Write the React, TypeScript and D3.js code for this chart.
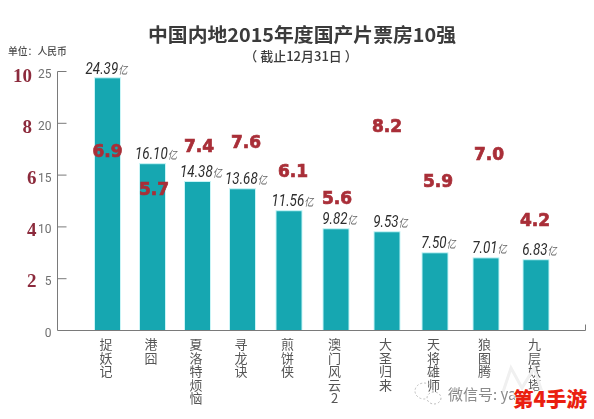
import * as d3 from 'd3';

const titles = ['捉妖记', '港囧', '夏洛特烦恼', '寻龙诀', '煎饼侠', '澳门风云2', '大圣归来', '天将雄师', '狼图腾', '九层妖塔'];
const boxOffice = [24.39, 16.1, 14.38, 13.68, 11.56, 9.82, 9.53, 7.5, 7.01, 6.83];
const ratings = [6.9, 5.7, 7.4, 7.6, 6.1, 5.6, 8.2, 5.9, 7.0, 4.2];
const boxTicks = [0, 5, 10, 15, 20, 25];
const ratingTicks = [2, 4, 6, 8, 10];

// the bars in the source are not evenly spaced, so the band centres are listed
const centres = [107.5, 152.5, 197.5, 242.5, 289, 336, 387, 435, 486, 536];
const scoreNudgeX = [0, 1.5, 1.5, 3.5, 4, 1, 0, 3, 3, -1];
const scoreNudgeY = [-4, 3, 4, 5, -4, 10, 4, 1, 2, -4];

const width = 594;
const height = 419;
const barW = 26;
const axisX = 57.5;

const x = d3.scaleOrdinal<string, number>().domain(titles).range(centres);
const y = d3.scaleLinear().domain([0, 25]).range([330.5, 71.5]);
const yRating = d3.scaleLinear().domain([0, 10]).range([331, 75]);

const sans = '"Noto Sans CJK SC", "Noto Sans", sans-serif';
const red = '#a92f38';
const grey = '#6f6f6f';

export default function App() {
  return (
    <svg
      width={width}
      height={height}
      viewBox={`0 0 ${width} ${height}`}
      style={{ position: 'absolute', left: 0, top: 0, background: '#fff' }}
      fontFamily={sans}
    >
      <defs>
        <filter id="soft" x="-5%" y="-5%" width="110%" height="110%">
          <feGaussianBlur stdDeviation="0.35" />
        </filter>
      </defs>

      <g filter="url(#soft)">
        <text x={302} y={42} textAnchor="middle" fontSize={19} fontWeight={700} fill="#3a3a3a" textLength={308} lengthAdjust="spacingAndGlyphs">
          中国内地2015年度国产片票房10强
        </text>
        <text x={301} y={61} textAnchor="middle" fontSize={13} fontWeight={500} fill="#3a3a3a">
          （ 截止12月31日 ）
        </text>
        <text x={8} y={55} fontSize={9.8} fontWeight={500} fill="#4a4a4a">
          单位：人民币
        </text>

        {/* bars */}
        {titles.map((t, i) => (
          <rect
            key={t}
            x={x(t) - barW / 2}
            y={y(boxOffice[i])}
            width={barW}
            height={y(0) - y(boxOffice[i])}
            fill="#13a7b1"
            stroke="#c9f5f7"
            strokeWidth={1}
          />
        ))}

        {/* axes */}
        <path d={`M${axisX + 9},${y(25)}H${axisX}V${y(0)}H585.5V${y(0) - 6}`} fill="none" stroke="#7a7a7a" strokeWidth={1} />
        {boxTicks.slice(1, 5).map((t) => (
          <line key={t} x1={axisX} x2={axisX + 9} y1={y(t)} y2={y(t)} stroke="#7a7a7a" strokeWidth={1} />
        ))}
        {boxTicks.map((t) => (
          <text key={t} x={51.5} y={y(t) + 6.5} textAnchor="end" fontFamily="Roboto, sans-serif" fontSize={12} fill={grey}>
            {t}
          </text>
        ))}
        {ratingTicks.map((t) => (
          <text
            key={t}
            x={t >= 8 ? 32 : 36.5}
            y={yRating(t) + 7}
            textAnchor="end"
            fontFamily='"Liberation Serif", serif'
            fontWeight={700}
            fontSize={19}
            fill="#8c2c3c"
          >
            {t}
          </text>
        ))}

        {/* box office labels, squeezed horizontally like the condensed face in the source */}
        {titles.map((t, i) => (
          <text
            key={t}
            transform={`translate(${x(t) + (i === 0 ? -1 : 3.5)},${y(boxOffice[i]) - (i === 0 ? 3.5 : 5)}) scale(0.84,1)`}
            textAnchor="middle"
            fontFamily="Roboto, sans-serif"
            fontStyle="italic"
            fontSize={16}
            fill="#2d2d2d"
          >
            {boxOffice[i].toFixed(2)}
            <tspan fontFamily={sans} fontSize={11} fill="#666">亿</tspan>
          </text>
        ))}

        {/* category names, stacked top to bottom */}
        {titles.map((t) => (
          <text
            key={t}
            x={x(t) - 1.5}
            y={338}
            fontSize={13}
            letterSpacing={0.4}
            fill="#555"
            style={{ writingMode: 'vertical-rl', textOrientation: 'upright' }}
          >
            {t}
          </text>
        ))}

        {/* ratings */}
        {titles.map((t, i) => (
          <text
            key={t}
            x={x(t) + scoreNudgeX[i]}
            y={yRating(ratings[i]) + scoreNudgeY[i] + 6.5}
            textAnchor="middle"
            fontFamily='"DejaVu Sans", sans-serif'
            fontWeight={700}
            fontSize={17}
            fill={red}
            stroke={red}
            strokeWidth={0.7}
          >
            {ratings[i].toFixed(1)}
          </text>
        ))}

        {/* watermarks */}
        <path d="M503,392L511,368L522,388L534,368L542,392" fill="none" stroke="#f0f0f0" strokeWidth={3} />
        <ellipse cx={424} cy={391} rx={9} ry={8} fill="none" stroke="#bbb" strokeDasharray="2 2" />
        <ellipse cx={434} cy={398} rx={7} ry={6} fill="#fff" stroke="#bbb" strokeDasharray="2 2" />
        <text x={448} y={400} fontSize={15} fill="#8a8a8a">微信号: ya</text>
      </g>
      <text
        x={550}
        y={407}
        textAnchor="middle"
        fontSize={20.5}
        fontWeight={900}
        fill="#ea1f10"
        stroke="#fff"
        strokeWidth={2}
        paintOrder="stroke"
      >
        第4手游
      </text>
    </svg>
  );
}
